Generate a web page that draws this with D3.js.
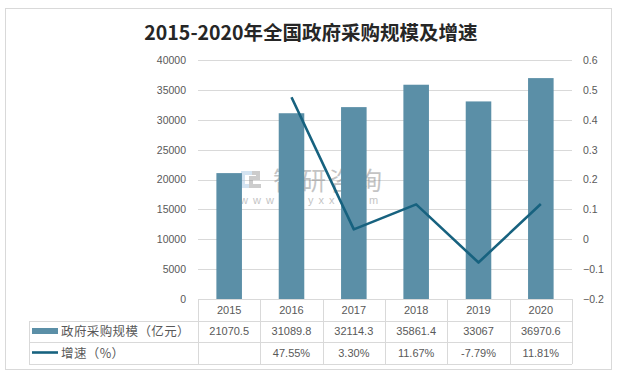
<!DOCTYPE html>
<meta charset="utf-8">
<style>
  body { margin: 0; background: #fff; }
  text { font-family: "Liberation Sans", Arial, sans-serif; fill: #595959; }
  .cjk { font-family: "Noto Sans CJK SC", sans-serif; }
  .grid line { stroke: #d9d9d9; }
  .tbl line { stroke: #d9d9d9; }
</style>
<body>
<script src="https://d3js.org/d3.v7.min.js"></script>
<script>
var years = ["2015", "2016", "2017", "2018", "2019", "2020"];
var scaleVals = [21070.5, 31089.8, 32114.3, 35861.4, 33067, 36970.6];
var growth = [null, 0.4755, 0.0330, 0.1167, -0.0779, 0.1181];
var scaleLabels = ["21070.5", "31089.8", "32114.3", "35861.4", "33067", "36970.6"];
var growthLabels = ["", "47.55%", "3.30%", "11.67%", "-7.79%", "11.81%"];
var leftTicks = [0, 5000, 10000, 15000, 20000, 25000, 30000, 35000, 40000];
var rightTicks = [-0.2, -0.1, 0, 0.1, 0.2, 0.3, 0.4, 0.5, 0.6];

var width = 623, height = 374,
    plotL = 198, plotR = 572, plotT = 60, plotB = 299;

var svg = d3.select("body").append("svg")
    .attr("width", width)
    .attr("height", height);

// outer frame
svg.append("rect")
    .attr("x", 5.5).attr("y", 8.5)
    .attr("width", 606).attr("height", 361)
    .attr("fill", "#fff").attr("stroke", "#d9d9d9");

svg.append("text")
    .attr("class", "cjk")
    .attr("x", 311).attr("y", 40)
    .attr("text-anchor", "middle")
    .style("font-size", "19.5px").style("font-weight", "700")
    .style("fill", "#262626")
    .text("2015-2020年全国政府采购规模及增速");

var x = d3.scaleBand().domain(years).range([plotL, plotR]);
var y = d3.scaleLinear().domain([0, 40000]).range([plotB, plotT]);
var y2 = d3.scaleLinear().domain([-0.2, 0.6]).range([plotB, plotT]);

// gridlines
svg.append("g").attr("class", "grid")
  .selectAll("line").data(leftTicks.slice(1)).enter().append("line")
    .attr("x1", plotL).attr("x2", plotR)
    .attr("y1", function(d) { return Math.round(y(d)) + 0.5; })
    .attr("y2", function(d) { return Math.round(y(d)) + 0.5; });

var yAxis = svg.append("g")
    .attr("transform", "translate(" + (plotL - 12) + ",0)")
    .call(d3.axisLeft(y).tickValues(leftTicks).tickSize(0).tickPadding(0).tickFormat(d3.format("d")));
yAxis.select(".domain").remove();
yAxis.selectAll("text").style("font-size", "10.5px").style("fill", "#595959");

var yAxis2 = svg.append("g")
    .attr("transform", "translate(" + (plotR + 11) + ",0)")
    .call(d3.axisRight(y2).tickValues(rightTicks).tickSize(0).tickPadding(0)
      .tickFormat(function(d) { return d3.format("~g")(+d.toFixed(1)); }));
yAxis2.select(".domain").remove();
yAxis2.selectAll("text").style("font-size", "10.5px").style("fill", "#595959");

// watermark (sits behind the bars)
var wm = svg.append("g").attr("opacity", 0.5);
wm.append("rect").attr("x", 241).attr("y", 171).attr("width", 4).attr("height", 17).attr("fill", "#a8c8e4");
wm.append("rect").attr("x", 241).attr("y", 171).attr("width", 11).attr("height", 4).attr("fill", "#a8c8e4");
wm.append("rect").attr("x", 241).attr("y", 184).attr("width", 11).attr("height", 4).attr("fill", "#a8c8e4");
wm.append("path").attr("d", "M252,171 h8 v9 h-7 v4 h8 v4 h-12 v-12 h7 v-1 h-4z").attr("fill", "#9a9a9a");
wm.append("text").attr("class", "cjk")
    .attr("x", 273).attr("y", 190)
    .style("font-size", "25px").style("fill", "#8a8a8a").style("letter-spacing", "3px")
    .text("智研咨询");
wm.append("text")
    .attr("x", 240).attr("y", 204)
    .style("font-size", "11px").style("fill", "#8a8a8a").style("letter-spacing", "5px")
    .text("www.chyxx.com");

// bars
var bw = x.bandwidth() * 0.41;
svg.append("g").selectAll("rect").data(scaleVals).enter().append("rect")
    .attr("x", function(d, i) { return x(years[i]) + (x.bandwidth() - bw) / 2; })
    .attr("y", function(d) { return y(d); })
    .attr("width", bw)
    .attr("height", function(d) { return y(0) - y(d); })
    .attr("fill", "#5b8fa7");

// growth line
var line = d3.line()
    .defined(function(d) { return d != null; })
    .x(function(d, i) { return x(years[i]) + x.bandwidth() / 2; })
    .y(function(d) { return y2(d); });

svg.append("path")
    .datum(growth)
    .attr("d", line)
    .attr("fill", "none")
    .attr("stroke", "#17627f")
    .attr("stroke-width", 2.6)
    .attr("stroke-linejoin", "round");

// data table
var tbl = svg.append("g").attr("class", "tbl");
var tLeft = 29, r1 = 321, r2 = 342, r3 = 364;
tbl.append("line").attr("x1", plotL).attr("x2", plotR).attr("y1", plotB + 0.5).attr("y2", plotB + 0.5);
[r1, r2, r3].forEach(function(r) {
  tbl.append("line").attr("x1", tLeft).attr("x2", plotR).attr("y1", r + 0.5).attr("y2", r + 0.5);
});
tbl.append("line").attr("x1", tLeft + 0.5).attr("x2", tLeft + 0.5).attr("y1", r1).attr("y2", r3);
years.concat(["end"]).forEach(function(yr, i) {
  var xx = Math.round(plotL + i * x.bandwidth()) + 0.5;
  tbl.append("line").attr("x1", xx).attr("x2", xx).attr("y1", plotB).attr("y2", r3);
});

svg.append("g").selectAll("text").data(years).enter().append("text")
    .attr("x", function(d) { return x(d) + x.bandwidth() / 2; })
    .attr("y", 314)
    .attr("text-anchor", "middle")
    .style("font-size", "11px")
    .text(function(d) { return d; });

svg.append("g").selectAll("text").data(scaleLabels).enter().append("text")
    .attr("x", function(d, i) { return x(years[i]) + x.bandwidth() / 2; })
    .attr("y", 335)
    .attr("text-anchor", "middle")
    .style("font-size", "11px")
    .text(function(d) { return d; });

svg.append("g").selectAll("text").data(growthLabels).enter().append("text")
    .attr("x", function(d, i) { return x(years[i]) + x.bandwidth() / 2; })
    .attr("y", 357)
    .attr("text-anchor", "middle")
    .style("font-size", "11px")
    .text(function(d) { return d; });

// legend keys
svg.append("rect").attr("x", 32).attr("y", 328).attr("width", 26).attr("height", 6).attr("fill", "#5b8fa7");
svg.append("line").attr("x1", 32).attr("x2", 58).attr("y1", 352.5).attr("y2", 352.5)
    .attr("stroke", "#17627f").attr("stroke-width", 2.6);
svg.append("text").attr("class", "cjk").attr("x", 61).attr("y", 336)
    .style("font-size", "12.5px").style("letter-spacing", "0.4px")
    .text("政府采购规模（亿元）");
svg.append("text").attr("class", "cjk").attr("x", 61).attr("y", 358)
    .style("font-size", "12.5px").style("letter-spacing", "0.4px")
    .text("增速（%）");
</script>
</body>
